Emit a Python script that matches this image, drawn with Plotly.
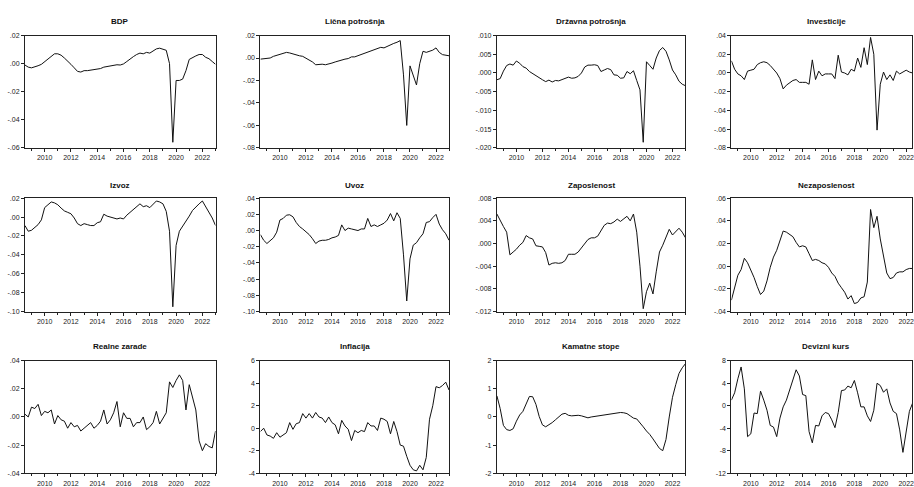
import plotly.graph_objects as go

# Quarterly observations, 2008Q3 .. 2023Q1
quarters = [f"{2008 + (i + 2) // 4}Q{(i + 2) % 4 + 1}" for i in range(59)]
xq = [int(q[:4]) + (int(q[-1]) - 1) * 0.25 for q in quarters]

titles = ["BDP", "Lična potrošnja", "Državna potrošnja", "Investicije",
          "Izvoz", "Uvoz", "Zaposlenost", "Nezaposlenost",
          "Realne zarade", "Inflacija", "Kamatne stope", "Devizni kurs"]

bdp = [-0.001, -0.0025, -0.003, -0.0025, -0.0015, -0.0005, 0.0015, 0.0035, 0.0055, 0.007,
       0.007, 0.006, 0.004, 0.002, -0.0005, -0.003, -0.0055, -0.006, -0.005, -0.005,
       -0.0047, -0.0045, -0.004, -0.0035, -0.0025, -0.002, -0.0017, -0.0012, -0.0008, -0.001,
       -0.0002, 0.0015, 0.0035, 0.005, 0.0065, 0.0075, 0.007, 0.008, 0.0075, 0.009,
       0.0105, 0.011, 0.0105, 0.0095, 0.000, -0.056, -0.012, -0.012, -0.011, -0.005,
       0.003, 0.0045, 0.0055, 0.0065, 0.0065, 0.0045, 0.0035, 0.0015, -0.0005]
licna = [-0.001, -0.0005, -0.0005, 0.0, 0.0015, 0.0025, 0.003, 0.004, 0.005, 0.0045,
         0.0035, 0.003, 0.002, 0.0015, 0.0, -0.0015, -0.0035, -0.006, -0.0055, -0.0055,
         -0.006, -0.0055, -0.0045, -0.0035, -0.0025, -0.002, -0.001, -0.0005, 0.001, 0.001,
         0.002, 0.003, 0.004, 0.005, 0.0065, 0.0075, 0.0085, 0.0095, 0.009, 0.0105,
         0.012, 0.013, 0.014, 0.0155, -0.015, -0.060, -0.007, -0.016, -0.024, -0.005,
         0.006, 0.005, 0.006, 0.007, 0.009, 0.005, 0.003, 0.0025, 0.002]
drzavna = [-0.0018, -0.0015, 0.0005, 0.002, 0.0024, 0.0021, 0.0032, 0.0026, 0.0017, 0.0013,
           0.0004, -0.0002, -0.0006, -0.0012, -0.0018, -0.0023, -0.0019, -0.0024, -0.002, -0.0021,
           -0.0018, -0.0013, -0.0011, -0.0014, -0.0013, -0.0009, 0.0, 0.0016, 0.0021, 0.0021,
           0.0022, 0.002, 0.0004, 0.0008, 0.0012, 0.0009, -0.0005, -0.0006, -0.0014, -0.0013,
           0.0004, -0.0002, 0.0006, -0.002, -0.0045, -0.0185, 0.003, 0.002, 0.001, 0.004,
           0.006, 0.0068, 0.0058, 0.0035, 0.0008, -0.0005, -0.0022, -0.003, -0.0034]
investicije = [0.013, 0.004, -0.001, -0.003, -0.007, 0.002, 0.003, 0.004, 0.009, 0.011,
               0.012, 0.011, 0.008, 0.004, 0.0, -0.006, -0.017, -0.013, -0.010, -0.008,
               -0.007, -0.010, -0.010, -0.010, -0.012, 0.014, -0.007, 0.002, -0.003, -0.001,
               -0.001, -0.001, -0.006, 0.019, 0.001, 0.0, -0.002, 0.004, 0.002, 0.016,
               0.006, 0.027, 0.009, 0.038, 0.020, -0.061, -0.012, 0.001, -0.007, -0.002,
               -0.008, 0.002, -0.001, 0.001, 0.003, 0.001, 0.0, -0.001, -0.002]
izvoz = [-0.009, -0.015, -0.014, -0.011, -0.008, -0.003, 0.010, 0.013, 0.016, 0.015,
         0.013, 0.0095, 0.0065, 0.005, 0.0035, -0.001, -0.007, -0.009, -0.007, -0.008,
         -0.009, -0.009, -0.006, -0.005, 0.003, 0.001, 0.0, -0.001, -0.002, -0.001,
         -0.002, 0.002, 0.005, 0.007, 0.010, 0.014, 0.011, 0.012, 0.010, 0.013,
         0.017, 0.016, 0.014, 0.006, -0.015, -0.095, -0.030, -0.015, -0.010, -0.005,
         0.001, 0.007, 0.011, 0.014, 0.017, 0.011, 0.006, -0.001, -0.009]
uvoz = [-0.005, -0.012, -0.016, -0.012, -0.009, -0.002, 0.013, 0.015, 0.019, 0.0195,
        0.017, 0.010, 0.005, 0.002, -0.001, -0.005, -0.010, -0.016, -0.013, -0.012,
        -0.012, -0.011, -0.009, -0.008, -0.006, 0.007, 0.0, 0.003, 0.002, 0.001,
        0.0, 0.002, 0.002, 0.015, 0.005, 0.007, 0.005, 0.007, 0.009, 0.013,
        0.021, 0.012, 0.022, 0.015, -0.030, -0.087, -0.035, -0.018, -0.015, -0.009,
        -0.004, 0.010, 0.011, 0.016, 0.020, 0.008, 0.001, -0.004, -0.012]
zaposlenost = [0.0052, 0.004, 0.003, 0.002, -0.002, -0.0015, -0.001, -0.0003, 0.0002, 0.0014,
               0.001, 0.0008, -0.0004, -0.0005, -0.0006, -0.0016, -0.0038, -0.0035, -0.0034, -0.0035,
               -0.0034, -0.003, -0.0019, -0.0019, -0.0019, -0.0015, -0.0008, -0.0001, 0.0007, 0.001,
               0.001, 0.0013, 0.0022, 0.0032, 0.0036, 0.0035, 0.0038, 0.0043, 0.0039, 0.0043,
               0.0048, 0.004, 0.0052, 0.002, -0.004, -0.0115, -0.0085, -0.007, -0.0089, -0.005,
               -0.0015, -0.0003, 0.001, 0.0025, 0.0015, 0.0022, 0.0027, 0.002, 0.001]
nezaposlenost = [-0.030, -0.020, -0.008, -0.003, 0.007, 0.003, -0.003, -0.010, -0.018, -0.025,
                 -0.022, -0.013, -0.001, 0.008, 0.014, 0.022, 0.031, 0.030, 0.028, 0.026,
                 0.021, 0.017, 0.018, 0.017, 0.011, 0.005, 0.006, 0.005, 0.003, 0.002,
                 -0.001, -0.006, -0.009, -0.015, -0.019, -0.023, -0.029, -0.026, -0.033, -0.032,
                 -0.028, -0.027, -0.014, 0.050, 0.034, 0.044, 0.024, 0.008, -0.006, -0.011,
                 -0.010, -0.006, -0.005, -0.005, -0.003, -0.002, -0.002, -0.001, 0.0]
realne_zarade = [0.002, 0.0, 0.007, 0.006, 0.009, 0.001, 0.004, 0.003, 0.005, -0.005,
                 0.001, -0.002, -0.003, -0.008, -0.004, -0.007, -0.006, -0.010, -0.008, -0.006,
                 -0.004, -0.008, -0.006, -0.003, 0.005, -0.005, -0.002, 0.003, 0.011, -0.007,
                 0.003, -0.001, -0.001, -0.007, -0.004, -0.004, 0.000, -0.009, -0.007, -0.004,
                 0.004, -0.005, -0.001, 0.003, 0.025, 0.021, 0.026, 0.030, 0.026, 0.005,
                 0.023, 0.014, 0.005, -0.017, -0.024, -0.019, -0.021, -0.022, -0.010]
inflacija = [-0.3, 0.0, -0.6, -0.7, -0.9, -0.4, -0.8, -0.6, -0.4, 0.5,
             -0.1, 0.4, 0.5, 1.3, 0.9, 1.3, 0.9, 1.4, 1.0, 0.9,
             0.5, 1.0, 0.5, 0.3, -0.5, 0.7, 0.2, -0.1, -1.1, -0.2,
             -0.4, -0.2, -0.3, 0.5, 0.2, 0.2, -0.2, 0.9, 0.8, 0.6,
             -0.5, 0.6, -0.3, -1.5, -1.6, -2.5, -3.3, -3.7, -3.8, -3.3,
             -3.7, -2.6, 0.8, 2.0, 3.7, 3.6, 3.8, 4.1, 3.4]
kamatne_stope = [0.75, 0.3, -0.3, -0.45, -0.48, -0.42, -0.15, 0.07, 0.2, 0.48,
                 0.73, 0.72, 0.45, 0.02, -0.28, -0.35, -0.28, -0.2, -0.1, 0.0,
                 0.1, 0.13, 0.06, 0.04, 0.06, 0.06, 0.04, 0.0, -0.03, 0.0,
                 0.02, 0.04, 0.06, 0.08, 0.1, 0.12, 0.14, 0.16, 0.16, 0.15,
                 0.12, 0.04, -0.04, -0.07, -0.2, -0.35, -0.5, -0.62, -0.78, -0.95,
                 -1.12, -1.2, -0.8, 0.0, 0.7, 1.15, 1.55, 1.75, 1.9]
devizni_kurs = [1.0, 2.3, 4.8, 6.9, 3.0, -5.5, -5.0, -1.3, -1.4, 2.6,
                1.0, -0.8, -3.5, -3.8, -5.5, -2.2, -0.2, 1.0, 2.8, 4.8,
                6.4, 5.3, 2.0, 1.8, -4.6, -6.6, -3.5, -3.6, -1.8, -1.2,
                -1.4, -2.5, -3.9, -1.2, 2.7, 2.8, 3.5, 3.2, 4.5, 2.3,
                -0.2, -0.2, -1.8, -2.8, -0.8, 4.0, 3.6, 2.4, 3.0, 0.5,
                -1.0, -1.4, -4.3, -8.3, -4.8, -1.0, 0.5, 1.0, 1.5]

series = [bdp, licna, drzavna, investicije, izvoz, uvoz, zaposlenost, nezaposlenost,
          realne_zarade, inflacija, kamatne_stope, devizni_kurs]

ytick_vals = [
    [-0.06, -0.04, -0.02, 0.0, 0.02],
    [-0.08, -0.06, -0.04, -0.02, 0.0, 0.02],
    [-0.020, -0.015, -0.010, -0.005, 0.0, 0.005, 0.010],
    [-0.08, -0.06, -0.04, -0.02, 0.0, 0.02, 0.04],
    [-0.10, -0.08, -0.06, -0.04, -0.02, 0.0, 0.02],
    [-0.10, -0.08, -0.06, -0.04, -0.02, 0.0, 0.02, 0.04],
    [-0.012, -0.008, -0.004, 0.0, 0.004, 0.008],
    [-0.04, -0.02, 0.0, 0.02, 0.04, 0.06],
    [-0.04, -0.02, 0.0, 0.02, 0.04],
    [-4, -2, 0, 2, 4, 6],
    [-2, -1, 0, 1, 2],
    [-12, -8, -4, 0, 4, 8],
]
ytick_text = [
    ["-.06", "-.04", "-.02", ".00", ".02"],
    ["-.08", "-.06", "-.04", "-.02", ".00", ".02"],
    ["-.020", "-.015", "-.010", "-.005", ".000", ".005", ".010"],
    ["-.08", "-.06", "-.04", "-.02", ".00", ".02", ".04"],
    ["-.10", "-.08", "-.06", "-.04", "-.02", ".00", ".02"],
    ["-.10", "-.08", "-.06", "-.04", "-.02", ".00", ".02", ".04"],
    ["-.012", "-.008", "-.004", ".000", ".004", ".008"],
    ["-.04", "-.02", ".00", ".02", ".04", ".06"],
    ["-.04", "-.02", ".00", ".02", ".04"],
    ["-4", "-2", "0", "2", "4", "6"],
    ["-2", "-1", "0", "1", "2"],
    ["-12", "-8", "-4", "0", "4", "8"],
]
xtick_vals = [2010, 2012, 2014, 2016, 2018, 2020, 2022]
xtick_text = ["2010", "2012", "2014", "2016", "2018", "2020", "2022"]

W, H = 914, 487
col_px = [(25, 216), (261, 450), (498, 687), (733, 914)]
row_px = [(32, 146), (197, 312), (362, 476)]
title_y_px = [18, 184, 348]

FONT = "Liberation Sans, Arial, sans-serif"
fig = go.Figure()
layout = dict(
    width=W, height=H, margin=dict(l=0, r=0, t=0, b=0),
    paper_bgcolor="white", plot_bgcolor="white", showlegend=False,
    font=dict(family=FONT, size=7, color="#222"),
)
annotations = []
for k in range(12):
    r, c = divmod(k, 4)
    n = "" if k == 0 else str(k + 1)
    x0, x1 = col_px[c]
    yt, yb = row_px[r]
    xr_end = 2023.0 if c < 3 else 2022.45
    fig.add_trace(go.Scatter(x=xq, y=series[k], mode="lines",
                             line=dict(color="#111", width=1),
                             xaxis="x" + n, yaxis="y" + n, hoverinfo="skip"))
    yv = ytick_vals[k]
    layout["xaxis" + n] = dict(
        domain=[x0 / W, min(x1 / W, 1.0)], anchor="y" + n,
        range=[2008.5, xr_end], tickvals=xtick_vals, ticktext=xtick_text,
        ticks="outside", ticklen=3, tickwidth=1, tickcolor="#222",
        showline=True, linecolor="#222", linewidth=1, mirror=True,
        showgrid=False, zeroline=False, tickfont=dict(size=7, family=FONT),
        ticklabeloverflow="allow",
        minor=dict(ticks="outside", ticklen=2, dtick=1, tick0=2009, tickcolor="#222"),
    )
    layout["yaxis" + n] = dict(
        domain=[1 - yb / H, 1 - yt / H], anchor="x" + n,
        range=[yv[0], yv[-1]], tickvals=yv, ticktext=ytick_text[k],
        ticks="outside", ticklen=3, tickwidth=1, tickcolor="#222",
        showline=True, linecolor="#222", linewidth=1, mirror=True,
        showgrid=False, zeroline=False, tickfont=dict(size=7, family=FONT),
        ticklabeloverflow="allow",
    )
    annotations.append(dict(
        text="<b>" + titles[k] + "</b>", xref="paper", yref="paper",
        x=((x0 + x1) / 2) / W if c < 3 else ((733 + 923) / 2) / W,
        y=1 - title_y_px[r] / H, xanchor="center", yanchor="middle",
        showarrow=False, font=dict(size=8, family=FONT, color="#111"),
    ))
layout["annotations"] = annotations
fig.update_layout(**layout)
fig.write_html("out.html")
